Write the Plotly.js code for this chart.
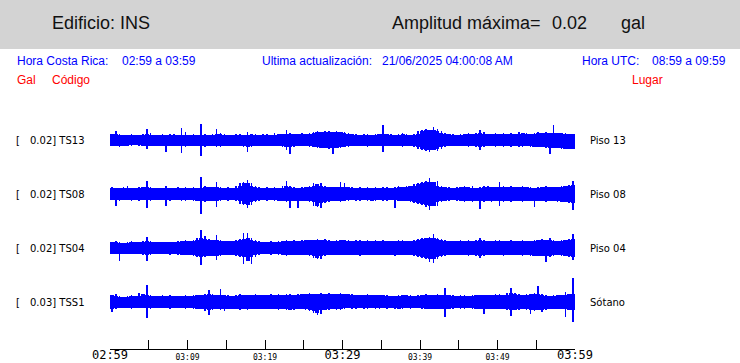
<!DOCTYPE html>
<html>
<head>
<meta charset="utf-8">
<script src="https://cdn.plot.ly/plotly-3.0.1.min.js"></script>
<style>
  html, body { margin: 0; padding: 0; background: #ffffff; }
  #chart { width: 740px; height: 363px; }
</style>
</head>
<body>
<div id="chart"></div>
<script>
// ---------------- DATA (amplitudes in mgal, 0.5-minute windows from 02:59) ----------------
const channels = ['TS13', 'TS08', 'TS04', 'TSS1'];
const places = ['Piso 13', 'Piso 08', 'Piso 04', 'Sótano'];
const maxAmplitudes = ['0.02', '0.02', '0.02', '0.03'];

const TS13_top = [
 7.5,11.3,7.5,6.3,6.3,7.5,6.3,6.3,7.5,13.8,
 8.8,6.3,6.3,7.5,6.3,7.5,7.5,6.3,15.6,10,
 6.3,7.5,6.3,20,7.5,6.3,7.5,13.4,8.8,7.5,
 6.3,6.3,7.5,7.5,6.3,10,7.5,7.5,6.3,7.5,
 7.5,6.3,8.8,7.5,7.5,12.5,8.8,7.5,7.5,8.8,
 7.5,8.8,10,11.3,10,11.3,11.3,10,11.3,10,
 10,8.8,7.5,7.5,6.3,7.5,7.5,6.3,7.5,7.5,
 18.8,7.5,7.5,6.3,7.5,8.8,7.5,6.3,7.5,11.3,
 12.5,13.8,12.5,16.3,13.8,11.3,8.8,7.5,7.5,6.3,
 7.5,7.5,8.8,7.5,8.8,12.5,10,7.5,7.5,8.8,
 7.5,8.8,7.5,8.8,7.5,10,8.8,8.8,7.5,8.8,
 10,8.8,10,8.8,18.8,8.8,8.8,8.8,7.5,7.5];
const TS13_bottom = [
 7.5,7.5,8.8,7.5,7.5,7.5,6.3,7.5,7.5,11.3,
 7.5,7.5,7.5,7.5,14.6,7.5,7.5,7.5,16.6,8.8,
 7.5,7.5,7.5,20.6,8.8,7.5,7.5,8.8,8.8,7.5,
 7.5,7.5,7.5,7.5,8.8,14.4,8.8,7.5,7.5,7.5,
 7.5,7.5,7.5,7.5,8.8,12.5,17.5,8.8,7.5,7.5,
 7.5,8.8,8.8,10,10,10,11.3,17.5,10,10,
 8.8,8.8,7.5,7.5,7.5,7.5,8.8,7.5,7.5,7.5,
 14.6,7.5,7.5,7.5,7.5,8.8,7.5,7.5,8.8,11.3,
 12.5,13.8,14.6,12.5,13.8,11.3,8.8,7.5,7.5,7.5,
 7.5,7.5,8.8,7.5,8.8,12.5,8.8,7.5,7.5,8.8,
 7.5,8.8,7.5,8.8,7.5,8.8,8.8,7.5,8.8,8.8,
 8.8,8.8,10,17.9,10,10,11.3,11.3,11.3,11.3];

const TS08_top = [
 8.8,7.5,7.5,8.8,10,7.5,7.5,8.8,8.8,16.6,
 8.8,7.5,7.5,7.5,10,7.5,7.5,8.8,7.5,8.8,
 7.5,8.8,7.5,21.6,10,8.8,8.8,15,8.8,7.5,
 8.8,7.5,10,13.8,15,17.5,13.8,10,8.8,7.5,
 8.8,7.5,8.8,7.5,10,16.3,10,8.8,7.5,8.8,
 8.8,10,13.8,12.5,13.8,10,8.8,8.8,8.8,15,
 13.8,8.8,8.8,7.5,8.8,7.5,8.8,7.5,8.8,7.5,
 8.8,8.8,7.5,8.8,10,8.8,10,10,12.5,13.8,
 15,16.3,19.6,15,16.3,10,8.8,8.8,7.5,8.8,
 8.8,10,8.8,10,7.5,8.8,10,10,8.8,8.8,
 15.4,10,8.8,10,8.8,8.8,10,8.8,8.8,7.5,
 8.8,8.8,10,8.8,8.8,8.8,10,10,11.3,16.6];
const TS08_bottom = [
 7.5,14.6,8.8,7.5,7.5,8.8,7.5,8.8,7.5,17.5,
 8.8,7.5,7.5,7.5,15.6,8.8,7.5,7.5,8.8,8.8,
 7.5,8.8,8.8,24.4,10,8.8,8.8,15.9,8.8,7.5,
 8.8,7.5,8.8,12.5,13.8,17.9,13.8,10,8.8,7.5,
 8.8,7.5,8.8,8.8,8.8,10,17.5,8.8,17.5,8.8,
 8.8,10,15,16.3,17.5,11.3,10,8.8,8.8,10,
 8.8,8.8,7.5,8.8,8.8,7.5,8.8,8.8,8.8,7.5,
 8.8,8.8,7.5,17.1,8.8,8.8,8.8,10,11.3,12.5,
 13.8,16.3,20,15,15,10,8.8,8.8,7.5,8.8,
 8.8,10,8.8,10,8.8,18.8,10,8.8,10,8.8,
 14.6,10,8.8,10,8.8,8.8,10,8.8,8.8,15.9,
 8.8,8.8,10,8.8,8.8,10,10,10,11.3,20];

const TS04_top = [
 7.5,8.8,7.5,6.3,7.5,8.8,7.5,7.5,8.8,13.4,
 8.8,7.5,7.5,7.5,7.5,7.5,7.5,8.8,8.8,10,
 8.8,10,12.5,22.9,14.6,11.3,10,16.3,10,8.8,
 8.8,8.8,10,11.3,18.8,18.4,12.5,10,8.8,7.5,
 7.5,8.8,7.5,8.8,8.8,10,8.8,10,8.8,10,
 10,10,10,11.3,10,11.3,10,8.8,10,10,
 10,10,8.8,10,10,8.8,10,8.8,10,8.8,
 10,8.8,8.8,8.8,10,10,8.8,8.8,10,11.3,
 12.5,12.5,13.8,17.1,12.5,11.3,10,8.8,8.8,8.8,
 10,8.8,10,8.8,10,12.9,10,8.8,8.8,10,
 10,8.8,8.8,10,8.8,8.8,10,8.8,8.8,10,
 10,11.3,10,12.1,10,8.8,10,10,11.3,17.1];
const TS04_bottom = [
 7.5,7.5,15.9,7.5,7.5,7.5,7.5,7.5,8.8,16.6,
 8.8,7.5,7.5,7.5,7.5,8.8,7.5,8.8,8.8,8.8,
 8.8,10,11.3,21.3,11.3,10,10,15,10,8.8,
 8.8,8.8,10,11.3,20,16.3,20.4,11.3,8.8,7.5,
 7.5,8.8,7.5,8.8,8.8,10,8.8,8.8,8.8,8.8,
 8.8,10,13.1,13.8,13.8,10,8.8,8.8,8.8,8.8,
 8.8,8.8,8.8,8.8,10,8.8,8.8,8.8,8.8,8.8,
 8.8,8.8,8.8,10,8.8,8.8,8.8,8.8,10,11.3,
 12.5,13.8,17.1,19.1,13.8,11.3,10,8.8,8.8,8.8,
 8.8,8.8,10,8.8,10,12.9,10,8.8,8.8,8.8,
 8.8,10,8.8,8.8,8.8,8.8,10,8.8,10,10,
 10,10,17.1,11.3,10,8.8,10,10,11.3,15];

const TSS1_top = [
 8.8,10,7.5,6.3,7.5,8.8,7.5,11.3,10,21.3,
 8.8,7.5,7.5,8.8,7.5,8.8,7.5,7.5,7.5,8.8,
 7.5,8.8,8.8,8.8,10,15,10,8.8,15.9,8.8,
 8.8,7.5,8.8,10,8.8,8.8,8.8,10,8.8,8.8,
 8.8,10,8.8,10,8.8,10,10,8.8,10,10,
 10,11.3,10,10,11.3,10,11.3,10,10,11.3,
 10,10,10,8.8,8.8,8.8,10,8.8,8.8,8.8,
 8.8,8.8,7.5,7.5,8.8,8.8,8.8,8.8,7.5,8.8,
 8.8,10,8.8,8.8,10,8.8,17.9,8.8,8.8,7.5,
 8.8,8.8,7.5,8.8,8.8,8.8,8.8,8.8,8.8,10,
 10,8.8,11.3,17.1,11.3,10,8.8,10,10,11.3,
 20,10,8.8,7.5,8.8,8.8,8.8,12.5,10,30.4];
const TSS1_bottom = [
 12.5,8.8,7.5,7.5,7.5,8.8,7.5,7.5,7.5,19.6,
 8.8,7.5,7.5,7.5,7.5,8.8,7.5,7.5,7.5,8.8,
 7.5,8.8,8.8,8.8,11.3,16.3,10,8.8,10,11.3,
 8.8,8.8,8.8,10,8.8,10,8.8,8.8,8.8,8.8,
 8.8,8.8,8.8,10,8.8,10,10,10,8.8,8.8,
 10,11.3,13.8,16.3,15,10,10,8.8,10,10,
 8.8,7.5,8.8,8.8,7.5,8.8,8.8,7.5,8.8,8.8,
 7.5,8.8,7.5,8.8,8.8,8.8,7.5,8.8,7.5,7.5,
 8.8,8.8,8.8,8.8,8.8,8.8,18.4,8.8,8.8,7.5,
 8.8,8.8,7.5,8.8,8.8,8.8,15.4,8.8,8.8,8.8,
 8.8,8.8,10,17.1,10,10,8.8,10,15.4,11.3,
 10,12.5,10,8.8,8.8,8.8,8.8,18.4,10,25.4];

const tickMinutes = [0,5,10,15,20,25,30,35,40,45,50,55,60];
const minorTickMinutes = [10,20,40,50];
const minorTickLabels = ['03:09','03:19','03:39','03:49'];
const majorTickMinutes = [0,30,60];
const majorTickLabels = ['02:59','03:29','03:59'];

// ---------------- LAYOUT HELPERS ----------------
const W = 740, H = 363;
const L = 110, R = 165, T = 113, B = 14;
const PW = W - L - R, PH = H - T - B;
const px = x => (x - L) / PW;
const py = y => (H - B - y) / PH;

const series = [
  {top: TS13_top, bottom: TS13_bottom},
  {top: TS08_top, bottom: TS08_bottom},
  {top: TS04_top, bottom: TS04_bottom},
  {top: TSS1_top, bottom: TSS1_bottom}
];
const centersPx = [140, 194, 248, 302];
const halfPx = 27;
const yHalfRange = 33.75; // mgal over 27 px

// local floor of a window (min of the window and its neighbours): drawn wide; the
// full window value is drawn as a thin stroke, giving the serrated trace look
const localFloor = arr => arr.map((v, i) => Math.min(v, arr[Math.max(0, i - 1)], arr[Math.min(arr.length - 1, i + 1)]));

const traces = [];
series.forEach((s, k) => {
  const yref = k === 0 ? 'y' : 'y' + (k + 1);
  const xs = s.top.map((_, i) => i * 0.5 + 0.25);
  const ft = localFloor(s.top), fb = localFloor(s.bottom);
  traces.push({
    type: 'bar', x: xs,
    y: ft.map((v, i) => v + fb[i]), base: fb.map(v => -v),
    width: 0.5, marker: {color: '#0000ff', line: {width: 0}},
    xaxis: 'x', yaxis: yref, hoverinfo: 'skip', showlegend: false
  });
  traces.push({
    type: 'bar', x: xs,
    y: s.top.map((v, i) => v + s.bottom[i]), base: s.bottom.map(v => -v),
    width: 0.2, marker: {color: '#0000ff', line: {width: 0}},
    xaxis: 'x', yaxis: yref, hoverinfo: 'skip', showlegend: false
  });
});
traces.push({type: 'scatter', mode: 'markers', x: [], y: [], xaxis: 'x2', yaxis: 'y4', showlegend: false});

const layout = {
  width: W, height: H,
  margin: {l: L, r: R, t: T, b: B, pad: 0},
  paper_bgcolor: '#ffffff', plot_bgcolor: 'rgba(0,0,0,0)',
  bargap: 0,
  barmode: 'overlay',
  showlegend: false,
  xaxis: {
    range: [0, 60], anchor: 'free', position: 0,
    tickmode: 'array', tickvals: tickMinutes,
    ticktext: tickMinutes.map(m => { const j = minorTickMinutes.indexOf(m); return j >= 0 ? minorTickLabels[j] : ''; }),
    ticks: 'inside', ticklen: 9, tickwidth: 1, tickcolor: '#000',
    showline: true, linecolor: '#000', linewidth: 1,
    showgrid: false, zeroline: false,
    tickfont: {family: 'DejaVu Sans Mono', size: 8, color: '#000'},
    fixedrange: true
  },
  xaxis2: {
    range: [0, 60], overlaying: 'x', anchor: 'free', position: 0, side: 'bottom',
    tickmode: 'array', tickvals: majorTickMinutes, ticktext: majorTickLabels,
    ticks: '', showline: false, showgrid: false, zeroline: false,
    ticklabelstandoff: -3,
    tickfont: {family: 'DejaVu Sans Mono', size: 12, color: '#000'}
  },
  shapes: [{
    type: 'rect', xref: 'paper', yref: 'paper', layer: 'below',
    x0: px(0), x1: px(W), y0: py(49), y1: py(0),
    fillcolor: '#d3d3d3', line: {width: 0}
  }],
  annotations: []
};

centersPx.forEach((c, k) => {
  const name = k === 0 ? 'yaxis' : 'yaxis' + (k + 1);
  layout[name] = {
    domain: [py(c + halfPx), py(c - halfPx)],
    range: [-yHalfRange, yHalfRange],
    visible: false, fixedrange: true, anchor: 'x'
  };
});

function ann(text, x, y, size, color, family) {
  layout.annotations.push({
    text: text, xref: 'paper', yref: 'paper', x: px(x), y: py(y),
    xanchor: 'left', yanchor: 'middle', showarrow: false,
    font: {family: family || 'Liberation Sans', size: size, color: color}
  });
}
ann('Edificio: INS', 50, 23, 18, '#111');
ann('Amplitud máxima=', 390, 23, 18, '#111');
ann('0.02', 550, 23, 18, '#111');
ann('gal', 619, 23, 18, '#111');
ann('Hora Costa Rica:', 15, 61, 12, '#0000ff');
ann('02:59 a 03:59', 120, 61, 12, '#0000ff');
ann('Ultima actualización:', 260, 61, 12, '#0000ff');
ann('21/06/2025 04:00:08 AM', 380, 61, 12, '#0000ff');
ann('Hora UTC:', 580, 61, 12, '#0000ff');
ann('08:59 a 09:59', 650, 61, 12, '#0000ff');
ann('Gal', 15, 80, 12, '#ff0000');
ann('Código', 50, 80, 12, '#ff0000');
ann('Lugar', 630, 80, 12, '#ff0000');

channels.forEach((ch, k) => {
  ann('[', 14, centersPx[k], 10, '#000', 'DejaVu Sans');
  ann(maxAmplitudes[k] + '] ' + ch, 28, centersPx[k], 10, '#000', 'DejaVu Sans');
  ann(places[k], 588, centersPx[k], 10, '#000', 'DejaVu Sans');
});

Plotly.newPlot('chart', traces, layout, {staticPlot: true, displayModeBar: false});
</script>
</body>
</html>
